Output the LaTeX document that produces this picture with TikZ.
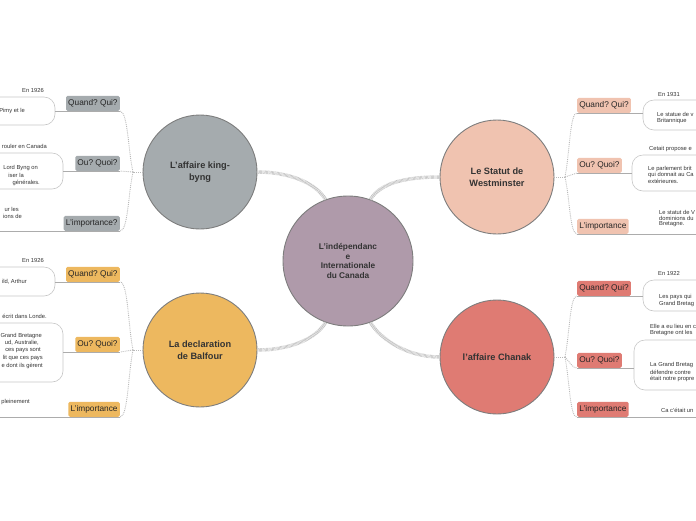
\documentclass[tikz,border=0pt]{standalone}
\usepackage{fontspec}
\setmainfont{Liberation Sans}
\frenchspacing
\definecolor{cgray}{HTML}{A5ABAE}
\definecolor{corange}{HTML}{EDB85F}
\definecolor{cpeach}{HTML}{F0C3B0}
\definecolor{cred}{HTML}{DF7B73}
\definecolor{cmauve}{HTML}{AF9AAA}
\definecolor{cborder}{HTML}{7D7D7D}
\definecolor{ctext}{HTML}{333333}
\tikzset{
  mainnode/.style={circle, draw=cborder, line width=0.9pt, minimum size=114pt, inner sep=0pt,
    align=center, text=ctext, font=\bfseries\fontsize{9.2}{12.3}\selectfont},
  centernode/.style={circle, draw=cborder, line width=0.9pt, minimum size=130pt, inner sep=0pt,
    align=center, text=ctext, fill=cmauve, font=\bfseries\fontsize{8.3}{9.7}\selectfont},
  lab/.style={rounded corners=1.5pt, inner xsep=2.2pt, inner ysep=0pt, minimum height=15pt,
    text=black!85, font=\fontsize{8.3}{10}\selectfont},
  small/.style={inner sep=0pt, text=ctext, font=\fontsize{5.8}{7}\selectfont},
  brk/.style={draw=gray!45, line width=0.6pt, rounded corners=11pt},
  uline/.style={draw=gray!65, line width=0.9pt},
  dotc/.style={draw=gray!55, line width=0.9pt, densely dotted},
  maincon/.style={draw=gray!55, line width=3.5pt, dash pattern=on 0.5pt off 0.7pt}
}
\begin{document}
\begin{tikzpicture}[x=1pt,y=-1pt]
\useasboundingbox (0,0) rectangle (696,520);
\clip (0,0) rectangle (696,520);

% main nodes
\node[centernode] (c) at (348,261) {L'indépendanc\\e\\Internationale\\du Canada};
\node[mainnode, fill=cgray] (kb) at (200,172) {L'affaire king-\\byng};
\node[mainnode, fill=corange] (bf) at (200,350) {La declaration\\de Balfour};
\node[mainnode, fill=cpeach] (ws) at (497,177) {Le Statut de\\Westminster};
\node[mainnode, fill=cred] (ch) at (497,357) {l'affaire Chanak};

% main connectors
\draw[maincon] (c.110) .. controls (315,182) and (288,172) .. (kb.east);
\draw[maincon] (c.70) .. controls (381,182) and (408,177) .. (ws.west);
\draw[maincon] (c.250) .. controls (315,340) and (288,350) .. (bf.east);
\draw[maincon] (c.290) .. controls (381,340) and (408,357) .. (ch.west);

% ---------- King-Byng (left top) ----------
\node[lab, fill=cgray, anchor=south east] (kQ) at (120,111) {Quand? Qui?};
\node[lab, fill=cgray, anchor=south east] (kO) at (120,171) {Ou? Quoi?};
\node[lab, fill=cgray, anchor=south east] (kI) at (120,231) {L'importance?};
\coordinate (kj) at (133,172);
\draw[dotc] (kb.west) -- (kj);
\draw[dotc] (kj) .. controls (128,150) and (128,112) .. (kQ.south east);
\draw[dotc] (kj) -- (kO.south east);
\draw[dotc] (kj) .. controls (128,195) and (128,231) .. (kI.south east);

\draw[brk] (-10,97) -- (55,97) -- (55,125) -- (-10,125);
\coordinate (kb1) at (55,111);
\draw[uline] (kb1) -- (kQ.south east);
\node[small] (k1a) at (33,90) {En 1926};
\node[small, anchor=east] (k1b) at (25,111) {Pimy et le};

\draw[brk] (-10,153) -- (63,153) -- (63,189) -- (-10,189);
\coordinate (kb2) at (63,171);
\draw[uline] (kb2) -- (kO.south east);
\node[small, anchor=east] (k2a) at (47,146) {rouler en Canada};
\node[small, anchor=east] (k2b) at (38,168) {Lord Byng on};
\node[small, anchor=east] (k2c) at (24,175) {iser la};
\node[small, anchor=east] (k2d) at (40,183) {générales.};

\coordinate (kb3) at (-5,231);
\draw[uline] (kb3) -- (kI.south east);
\node[small, anchor=east] (k3a) at (19,209) {ur les};
\node[small, anchor=east] (k3b) at (22,216) {ions de};

% ---------- Balfour (left bottom) ----------
\node[lab, fill=corange, anchor=south east] (bQ) at (120,282) {Quand? Qui?};
\node[lab, fill=corange, anchor=south east] (bO) at (120,352) {Ou? Quoi?};
\node[lab, fill=corange, anchor=south east] (bI) at (120,417) {L'importance};
\coordinate (bj) at (133,350);
\draw[dotc] (bf.west) -- (bj);
\draw[dotc] (bj) .. controls (128,325) and (128,282) .. (bQ.south east);
\draw[dotc] (bj) -- (bO.south east);
\draw[dotc] (bj) .. controls (128,375) and (128,417) .. (bI.south east);

\draw[brk] (-10,267) -- (55,267) -- (55,296) -- (-10,296);
\coordinate (bb1) at (55,282);
\draw[uline] (bb1) -- (bQ.south east);
\node[small] (b1a) at (33,260) {En 1926};
\node[small, anchor=east] (b1b) at (27,282) {ild, Arthur};

\draw[brk] (-10,323) -- (63,323) -- (63,382) -- (-10,382);
\coordinate (bb2) at (63,352);
\draw[uline] (bb2) -- (bO.south east);
\node[small, anchor=east] (b2a) at (47,316) {écrit dans Londe.};
\node[small, anchor=east] (b2b) at (42,336) {Grand Bretagne};
\node[small, anchor=east] (b2c) at (39,343) {ud, Australie,};
\node[small, anchor=east] (b2d) at (41,350) {ces pays sont};
\node[small, anchor=east] (b2e) at (43,358) {lit que ces pays};
\node[small, anchor=east] (b2f) at (43,366) {e dont ils gèrent};

\coordinate (bb3) at (-5,417);
\draw[uline] (bb3) -- (bI.south east);
\node[small, anchor=east] (b3a) at (30,402) {pleinement};

% ---------- Westminster (right top) ----------
\node[lab, fill=cpeach, anchor=south west] (wQ) at (577,113) {Quand? Qui?};
\node[lab, fill=cpeach, anchor=south west] (wO) at (577,173) {Ou? Quoi?};
\node[lab, fill=cpeach, anchor=south west] (wI) at (577,234) {L'importance};
\coordinate (wj) at (565,177);
\draw[dotc] (ws.east) -- (wj);
\draw[dotc] (wj) .. controls (570,150) and (570,113) .. (wQ.south west);
\draw[dotc] (wj) -- (wO.south west);
\draw[dotc] (wj) .. controls (570,200) and (570,234) .. (wI.south west);

\draw[brk] (706,100) -- (643,100) -- (643,130) -- (706,130);
\coordinate (wb1) at (643,113);
\draw[uline] (wQ.south west) -- (wb1);
\node[small, anchor=west] (w1a) at (658,94) {En 1931};
\node[small, anchor=west] (w1b) at (657,114) {Le statue de v};
\node[small, anchor=west] (w1c) at (657,121) {Britannique};

\draw[brk] (706,155) -- (632,155) -- (632,191) -- (706,191);
\coordinate (wb2) at (632,173);
\draw[uline] (wO.south west) -- (wb2);
\node[small, anchor=west] (w2a) at (649,149) {Cetait propose e};
\node[small, anchor=west] (w2b) at (648,169) {Le parlement brit};
\node[small, anchor=west] (w2c) at (648,175) {qui donnait au Ca};
\node[small, anchor=west] (w2d) at (648,181) {extérieures.};

\coordinate (wb3) at (706,234);
\draw[uline] (wI.south west) -- (wb3);
\node[small, anchor=west] (w3a) at (659,212) {Le statut de V};
\node[small, anchor=west] (w3b) at (659,218) {dominions du};
\node[small, anchor=west] (w3c) at (659,224) {Bretagne.};

% ---------- Chanak (right bottom) ----------
\node[lab, fill=cred, anchor=south west] (cQ) at (577,296) {Quand? Qui?};
\node[lab, fill=cred, anchor=south west] (cO) at (577,368) {Ou? Quoi?};
\node[lab, fill=cred, anchor=south west] (cI) at (577,417) {L'importance};
\coordinate (cj) at (565,357);
\draw[dotc] (ch.east) -- (cj);
\draw[dotc] (cj) .. controls (570,330) and (570,296) .. (cQ.south west);
\draw[dotc] (cj) .. controls (570,362) and (572,368) .. (cO.south west);
\draw[dotc] (cj) .. controls (570,385) and (570,417) .. (cI.south west);

\draw[brk] (706,280) -- (643,280) -- (643,311) -- (706,311);
\coordinate (cb1) at (643,296);
\draw[uline] (cQ.south west) -- (cb1);
\node[small, anchor=west] (c1a) at (658,273) {En 1922};
\node[small, anchor=west] (c1b) at (659,297) {Les pays qui};
\node[small, anchor=west] (c1c) at (659,304) {Grand Bretag};

\draw[brk] (706,340) -- (634,340) -- (634,390) -- (706,390);
\coordinate (cb2) at (634,368);
\draw[uline] (cO.south west) -- (cb2);
\node[small, anchor=west] (c2a) at (650,326) {Elle a eu lieu en c};
\node[small, anchor=west] (c2b) at (650,333) {Bretagne ont les};
\node[small, anchor=west] (c2c) at (650,365) {La Grand Bretag};
\node[small, anchor=west] (c2d) at (650,372) {défendre contre};
\node[small, anchor=west] (c2e) at (650,379) {était notre propre};

\coordinate (cb3) at (706,417);
\draw[uline] (cI.south west) -- (cb3);
\node[small, anchor=west] (c3a) at (661,410) {Ca c'était un};
\end{tikzpicture}
\end{document}
